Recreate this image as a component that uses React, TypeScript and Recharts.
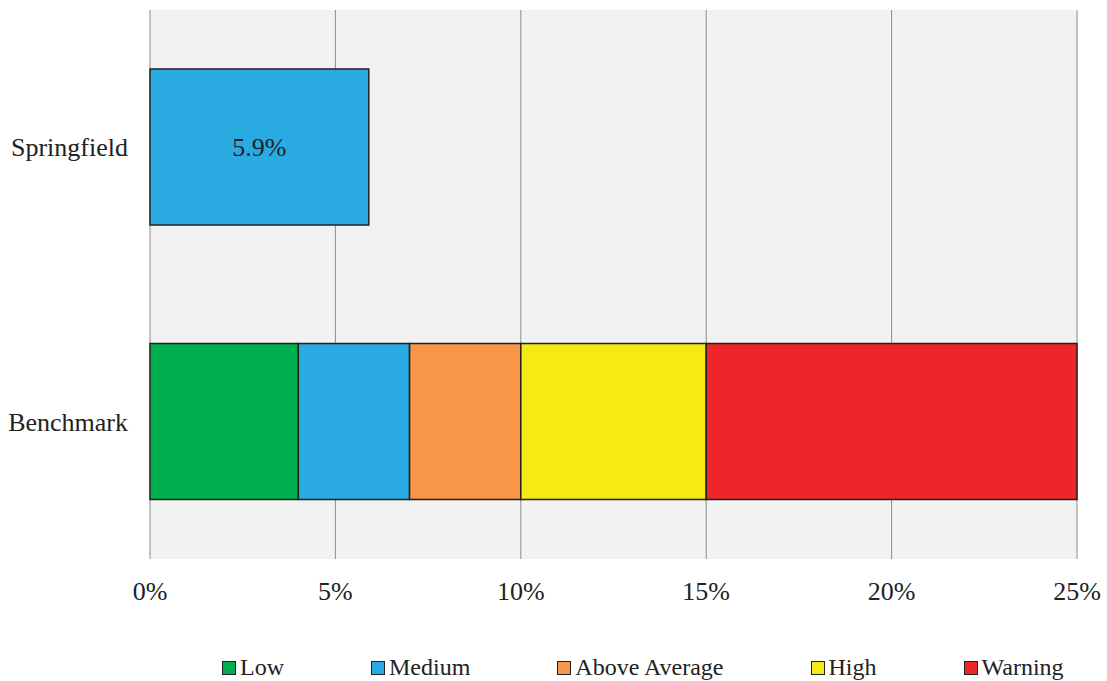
import { Bar, BarChart, CartesianGrid, LabelList, Legend, XAxis, YAxis } from 'recharts'

const categories = ['Springfield', 'Benchmark']
const lowValues = [0, 4]
const mediumValues = [5.9, 3]
const aboveAverageValues = [0, 3]
const highValues = [0, 5]
const warningValues = [0, 10]
const xTicks = [0, 5, 10, 15, 20, 25]

const series = [
  { key: 'low', name: 'Low', color: '#00b050' },
  { key: 'medium', name: 'Medium', color: '#29abe2' },
  { key: 'aboveAverage', name: 'Above Average', color: '#f79646' },
  { key: 'high', name: 'High', color: '#f5ea14' },
  { key: 'warning', name: 'Warning', color: '#ed2629' },
]

const data = categories.map((name, i) => ({
  name,
  low: lowValues[i],
  medium: mediumValues[i],
  aboveAverage: aboveAverageValues[i],
  high: highValues[i],
  warning: warningValues[i],
  label: name === 'Springfield' ? `${mediumValues[i]}%` : '',
}))

const font = '"Liberation Serif", "Times New Roman", serif'

const CustomLegend = () => (
  <div style={{ display: 'flex', paddingLeft: 222, fontFamily: font, fontSize: 24, color: '#222', gap: 87 }}>
    {series.map((s) => (
      <div key={s.key} style={{ display: 'flex', alignItems: 'center' }}>
        <span
          style={{
            width: 12,
            height: 12,
            background: s.color,
            border: '1.5px solid #222',
            marginRight: 4,
            display: 'inline-block',
          }}
        />
        <span>{s.name}</span>
      </div>
    ))}
  </div>
)

const App = () => {
  return (
    <div style={{ position: 'absolute', left: 0, top: 0, width: 1107, height: 681, background: '#fff' }}>
      <BarChart
        width={1107}
        height={681}
        data={data}
        layout="vertical"
        barCategoryGap="21.5%"
        margin={{ top: 10, right: 30, bottom: 0, left: 0 }}
      >
        <CartesianGrid horizontal={false} stroke="#8c8c8c" fill="#f2f2f2" />
        <XAxis
          type="number"
          domain={[0, 25]}
          ticks={xTicks}
          tickFormatter={(v) => `${v}%`}
          axisLine={false}
          tickLine={false}
          tickMargin={17}
          height={95}
          tick={{ fontFamily: font, fontSize: 26, fill: '#222' }}
        />
        <YAxis
          type="category"
          dataKey="name"
          width={150}
          axisLine={false}
          tickLine={false}
          tickMargin={16}
          tick={{ fontFamily: font, fontSize: 26, fill: '#222' }}
        />
        <Legend verticalAlign="bottom" wrapperStyle={{ left: 0, width: 1107 }} content={<CustomLegend />} />
        {series.map((s) => (
          <Bar
            key={s.key}
            dataKey={s.key}
            name={s.name}
            stackId="a"
            fill={s.color}
            stroke="#222"
            strokeWidth={1.5}
            isAnimationActive={false}
          >
            {s.key === 'medium' && (
              <LabelList
                dataKey="label"
                position="center"
                style={{ fontFamily: font, fontSize: 26, fill: '#222' }}
              />
            )}
          </Bar>
        ))}
      </BarChart>
    </div>
  )
}

export default App
